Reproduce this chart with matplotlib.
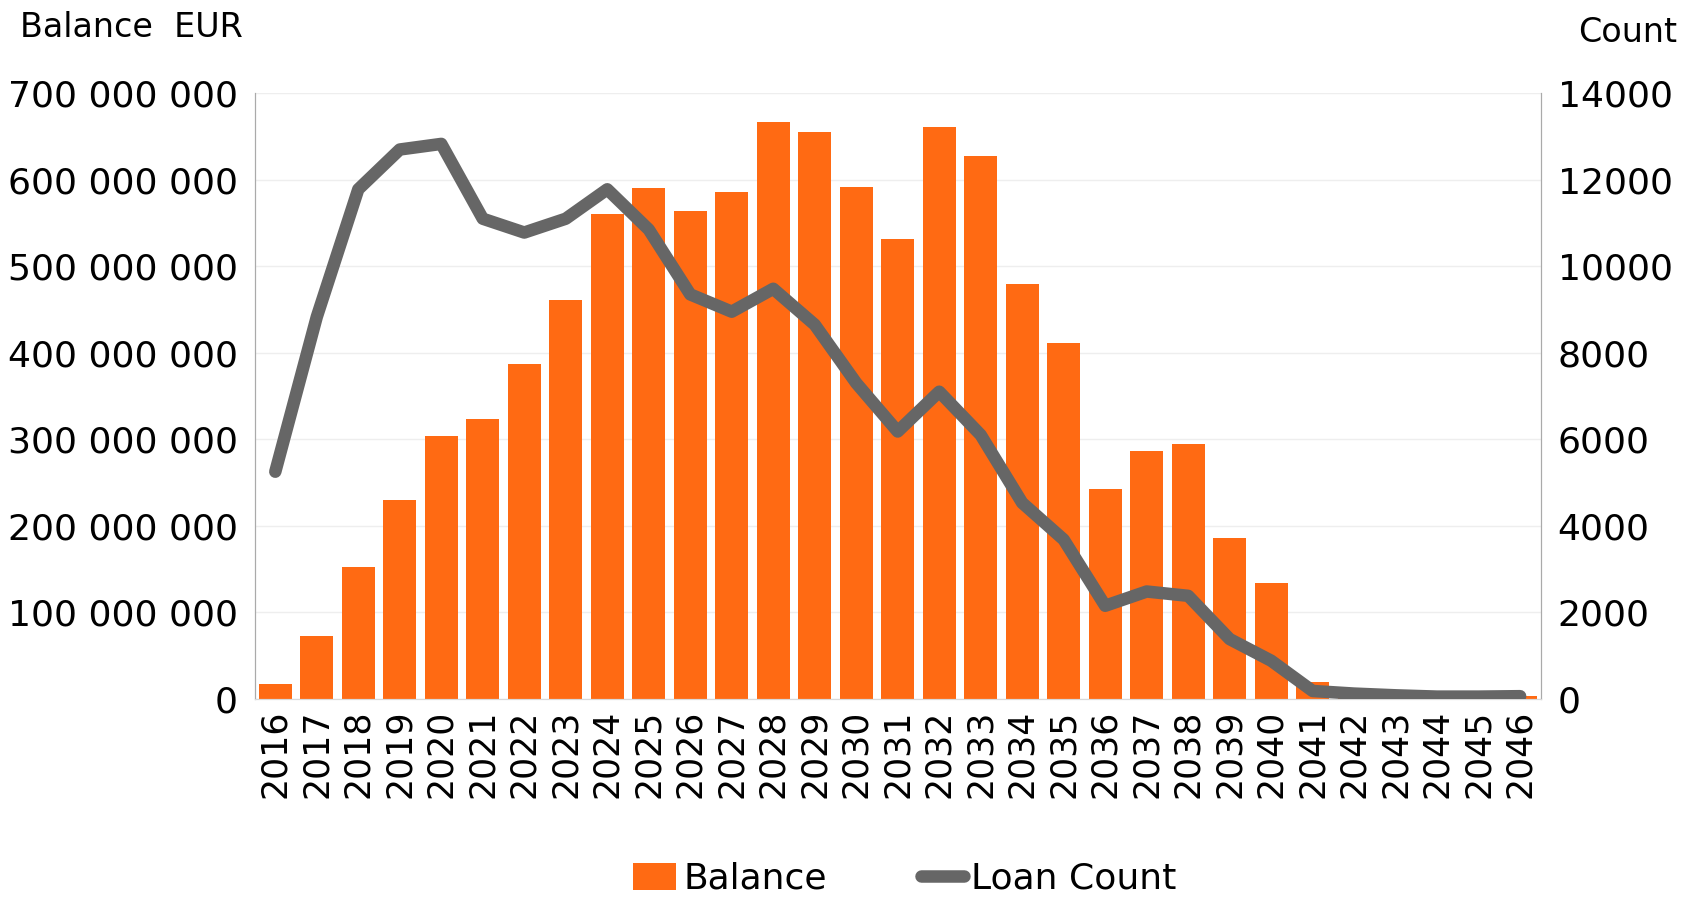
import matplotlib
matplotlib.use("Agg")
from matplotlib import pyplot as plt
from matplotlib.ticker import FuncFormatter
import numpy as np

# data
years = [str(y) for y in range(2016, 2047)]
balance = [17e6, 72e6, 152e6, 230e6, 304e6, 323e6, 387e6, 461e6, 560e6, 590e6,
           564e6, 586e6, 667e6, 655e6, 592e6, 532e6, 661e6, 627e6, 479e6, 411e6,
           242e6, 287e6, 295e6, 186e6, 134e6, 19e6, 10e6, 5e6, 3e6, 3e6, 3e6]
loan_count = [5250, 8830, 11780, 12700, 12830, 11100, 10780, 11100, 11780, 10850,
              9350, 8950, 9480, 8650, 7300, 6180, 7100, 6100, 4530, 3680,
              2150, 2480, 2380, 1380, 880, 180, 120, 80, 50, 50, 60]

orange = '#FF6A13'
grey = '#666666'
plt.rcParams['font.family'] = ['DejaVu Sans']

fig = plt.figure(figsize=(16.97, 8.97), dpi=100)
ax = fig.add_axes([0.150, 0.221, 0.758, 0.675])
ax2 = ax.twinx()

x = np.arange(len(years))
bars = ax.bar(x, balance, width=0.8, color=orange, label='Balance', zorder=2)
line, = ax2.plot(x, loan_count, color=grey, lw=9, solid_capstyle='round',
                 solid_joinstyle='round', label='Loan Count', zorder=3)

ax.set_xlim(-0.5, len(years) - 0.5)
ax.set_ylim(0, 700e6)
ax2.set_ylim(0, 14000)
ax.set_yticks(np.arange(0, 700e6 + 1, 100e6))
ax2.set_yticks(np.arange(0, 14001, 2000))
ax.yaxis.set_major_formatter(FuncFormatter(lambda v, p: f'{int(v):,}'.replace(',', ' ')))
ax.set_xticks(x)
ax.set_xticklabels(years, rotation=90)

ax.grid(axis='y', color='#eeeeee', lw=1, zorder=0)
ax.set_axisbelow(True)
for a in (ax, ax2):
    a.spines['top'].set_visible(False)
    a.spines['left'].set_color('#aaaaaa')
    a.spines['right'].set_color('#aaaaaa')
    a.spines['bottom'].set_color('#d9d9d9')
    a.tick_params(length=0, labelsize=26, pad=12)
ax.tick_params(axis='x', labelsize=25, pad=8)

fig.text(0.012, 0.988, 'Balance  EUR', fontsize=24, va='top', ha='left')
fig.text(0.988, 0.982, 'Count', fontsize=24, va='top', ha='right')

fig.legend([bars, line], ['Balance', 'Loan Count'], loc='lower center',
           bbox_to_anchor=(0.533, -0.035), ncol=2, frameon=False, fontsize=26,
           handlelength=1.2, handleheight=0.8, handletextpad=0.2, columnspacing=2.6)

fig.savefig('out.png', dpi=100)
